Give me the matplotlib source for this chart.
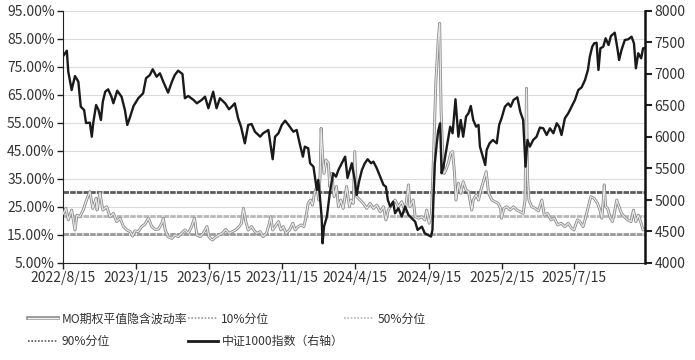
import matplotlib
matplotlib.use("Agg")
import matplotlib.pyplot as plt
import matplotlib.patheffects as pe
from matplotlib.lines import Line2D
import pandas as pd

plt.rcParams['font.family'] = ['Noto Sans CJK SC', 'DejaVu Sans']

# ---------------- data ----------------
index_dates = [
    "2022-08-15", "2022-08-23", "2022-08-26", "2022-09-02", "2022-09-09", "2022-09-16", "2022-09-21",
    "2022-09-28", "2022-10-02", "2022-10-10", "2022-10-14", "2022-10-17", "2022-10-23", "2022-10-28",
    "2022-11-02", "2022-11-06", "2022-11-11", "2022-11-17", "2022-11-24", "2022-11-28", "2022-12-06",
    "2022-12-15", "2022-12-22", "2022-12-27", "2023-01-02", "2023-01-09", "2023-01-19", "2023-01-29",
    "2023-02-04", "2023-02-12", "2023-02-18", "2023-02-26", "2023-03-05", "2023-03-12", "2023-03-22",
    "2023-03-30", "2023-04-05", "2023-04-12", "2023-04-21", "2023-04-26", "2023-05-03", "2023-05-14",
    "2023-05-21", "2023-05-31", "2023-06-07", "2023-06-14", "2023-06-24", "2023-07-01", "2023-07-08",
    "2023-07-19", "2023-07-27", "2023-08-03", "2023-08-08", "2023-08-15", "2023-08-21", "2023-08-29",
    "2023-09-05", "2023-09-12", "2023-09-19", "2023-09-30", "2023-10-06", "2023-10-17", "2023-10-22",
    "2023-10-26", "2023-10-31", "2023-11-07", "2023-11-14", "2023-11-21", "2023-11-28", "2023-12-08",
    "2023-12-15", "2023-12-22", "2023-12-28", "2024-01-01", "2024-01-08", "2024-01-12", "2024-01-19",
    "2024-01-22", "2024-01-26", "2024-01-29", "2024-02-02", "2024-02-05", "2024-02-07", "2024-02-10",
    "2024-02-16", "2024-02-22", "2024-02-29", "2024-03-06", "2024-03-11", "2024-03-18", "2024-03-25",
    "2024-03-30", "2024-04-08", "2024-04-14", "2024-04-18", "2024-04-23", "2024-04-29", "2024-05-05",
    "2024-05-11", "2024-05-18", "2024-05-23", "2024-05-30", "2024-06-06", "2024-06-13", "2024-06-18",
    "2024-06-22", "2024-06-27", "2024-07-03", "2024-07-07", "2024-07-14", "2024-07-21", "2024-07-28",
    "2024-08-04", "2024-08-11", "2024-08-18", "2024-08-23", "2024-09-01", "2024-09-07", "2024-09-14",
    "2024-09-20", "2024-09-23", "2024-09-25", "2024-09-28", "2024-10-02", "2024-10-05", "2024-10-09",
    "2024-10-12", "2024-10-16", "2024-10-23", "2024-10-30", "2024-11-04", "2024-11-10", "2024-11-16",
    "2024-11-21", "2024-11-26", "2024-12-02", "2024-12-07", "2024-12-12", "2024-12-17", "2024-12-23",
    "2024-12-28", "2024-12-31", "2025-01-06", "2025-01-11", "2025-01-14", "2025-01-20", "2025-01-27",
    "2025-02-04", "2025-02-09", "2025-02-14", "2025-02-21", "2025-02-28", "2025-03-05", "2025-03-11",
    "2025-03-19", "2025-03-25", "2025-03-31", "2025-04-05", "2025-04-09", "2025-04-14", "2025-04-21",
    "2025-04-28", "2025-05-05", "2025-05-12", "2025-05-19", "2025-05-26", "2025-06-02", "2025-06-09",
    "2025-06-14", "2025-06-19", "2025-06-26", "2025-07-03", "2025-07-10", "2025-07-17", "2025-07-24",
    "2025-07-31", "2025-08-07", "2025-08-13", "2025-08-17", "2025-08-22", "2025-08-26", "2025-08-31",
    "2025-09-04", "2025-09-08", "2025-09-14", "2025-09-19", "2025-09-25", "2025-09-30", "2025-10-08",
    "2025-10-14", "2025-10-17", "2025-10-22", "2025-10-29", "2025-11-05", "2025-11-12", "2025-11-17",
    "2025-11-21", "2025-11-26", "2025-12-02", "2025-12-06", "2025-12-10",
]
index_values = [
    7280, 7370, 7037, 6746, 6968, 6878, 6481,
    6429, 6222, 6227, 6005, 6222, 6508, 6429,
    6270, 6561, 6719, 6757, 6640, 6535, 6735,
    6640, 6429, 6191, 6323, 6492, 6615, 6694,
    6932, 6984, 7075, 6957, 7011, 6878, 6704,
    6878, 6984, 7053, 7000, 6615, 6651, 6588,
    6535, 6588, 6640, 6456, 6719, 6456, 6615,
    6535, 6440, 6492, 6535, 6297, 6164, 5900,
    6191, 6207, 6084, 6005, 6059, 6111, 5847,
    5647, 6005, 6059, 6191, 6259, 6191, 6084,
    6111, 5874, 5688, 5847, 5821, 5583, 5529,
    5370, 5159, 5318, 5001, 4736, 4313, 4577,
    4736, 5107, 5424, 5370, 5477, 5583, 5688,
    5350, 5583, 5318, 5080, 5291, 5477, 5583,
    5647, 5583, 5609, 5503, 5370, 5239, 5212,
    5001, 4894, 4974, 4789, 4869, 4736, 4894,
    4763, 4710, 4656, 4525, 4577, 4472, 4445,
    4420, 4525, 5001, 5583, 5900, 6100, 6218,
    5424, 5529, 5847, 6164, 6059, 6599, 6005,
    6270, 6005, 6323, 6376, 6492, 6270, 6164,
    6191, 5847, 5688, 5556, 5794, 5900, 5953,
    5900, 6191, 6297, 6481, 6535, 6481, 6588,
    6630, 6402, 6270, 5529, 5953, 5847, 5953,
    6005, 6150, 6138, 6032, 6138, 6059, 6218,
    6164, 6032, 6297, 6376, 6481, 6588, 6746,
    6789, 6905, 7064, 7275, 7433, 7487, 7497,
    7064, 7408, 7433, 7567, 7460, 7603, 7656,
    7381, 7222, 7381, 7540, 7551, 7592, 7487,
    7090, 7329, 7249, 7408, 7413,
]

iv_dates = [
    "2022-08-16", "2022-08-21", "2022-08-26", "2022-09-02", "2022-09-09", "2022-09-13", "2022-09-19",
    "2022-09-26", "2022-10-03", "2022-10-10", "2022-10-16", "2022-10-23", "2022-10-25", "2022-10-31",
    "2022-11-06", "2022-11-14", "2022-11-21", "2022-11-28", "2022-12-05", "2022-12-12", "2022-12-19",
    "2022-12-26", "2023-01-02", "2023-01-07", "2023-01-12", "2023-01-19", "2023-01-26", "2023-02-02",
    "2023-02-09", "2023-02-16", "2023-02-23", "2023-03-02", "2023-03-09", "2023-03-12", "2023-03-16",
    "2023-03-22", "2023-03-30", "2023-04-05", "2023-04-12", "2023-04-19", "2023-04-26", "2023-05-03",
    "2023-05-10", "2023-05-16", "2023-05-21", "2023-05-28", "2023-06-03", "2023-06-11", "2023-06-15",
    "2023-06-22", "2023-06-29", "2023-07-06", "2023-07-13", "2023-07-20", "2023-07-27", "2023-08-03",
    "2023-08-10", "2023-08-17", "2023-08-22", "2023-08-26", "2023-08-31", "2023-09-05", "2023-09-12",
    "2023-09-19", "2023-09-23", "2023-09-30", "2023-10-06", "2023-10-13", "2023-10-19", "2023-10-22",
    "2023-10-26", "2023-10-31", "2023-11-07", "2023-11-12", "2023-11-17", "2023-11-23", "2023-11-30",
    "2023-12-07", "2023-12-12", "2023-12-18", "2023-12-25", "2023-12-30", "2024-01-03", "2024-01-08",
    "2024-01-13", "2024-01-17", "2024-01-21", "2024-01-26", "2024-01-30", "2024-02-02", "2024-02-04",
    "2024-02-07", "2024-02-10", "2024-02-14", "2024-02-19", "2024-02-22", "2024-02-26", "2024-03-02",
    "2024-03-07", "2024-03-11", "2024-03-16", "2024-03-21", "2024-03-28", "2024-04-03", "2024-04-06",
    "2024-04-11", "2024-04-14", "2024-04-18", "2024-04-25", "2024-05-02", "2024-05-09", "2024-05-16",
    "2024-05-23", "2024-05-30", "2024-06-06", "2024-06-13", "2024-06-18", "2024-06-23", "2024-06-30",
    "2024-07-07", "2024-07-14", "2024-07-21", "2024-07-28", "2024-08-04", "2024-08-07", "2024-08-14",
    "2024-08-18", "2024-08-25", "2024-09-01", "2024-09-07", "2024-09-11", "2024-09-16", "2024-09-21",
    "2024-09-25", "2024-09-30", "2024-10-05", "2024-10-08", "2024-10-11", "2024-10-14", "2024-10-17",
    "2024-10-21", "2024-10-26", "2024-10-31", "2024-11-04", "2024-11-08", "2024-11-11", "2024-11-16",
    "2024-11-21", "2024-11-26", "2024-12-02", "2024-12-07", "2024-12-14", "2024-12-17", "2024-12-23",
    "2024-12-28", "2025-01-02", "2025-01-07", "2025-01-13", "2025-01-18", "2025-01-25", "2025-01-31",
    "2025-02-07", "2025-02-12", "2025-02-14", "2025-02-19", "2025-02-25", "2025-03-04", "2025-03-11",
    "2025-03-18", "2025-03-25", "2025-03-31", "2025-04-04", "2025-04-07", "2025-04-09", "2025-04-12",
    "2025-04-18", "2025-04-25", "2025-05-02", "2025-05-09", "2025-05-14", "2025-05-21", "2025-05-28",
    "2025-06-04", "2025-06-11", "2025-06-18", "2025-06-26", "2025-07-03", "2025-07-10", "2025-07-15",
    "2025-07-22", "2025-07-27", "2025-08-03", "2025-08-07", "2025-08-13", "2025-08-19", "2025-08-26",
    "2025-09-02", "2025-09-07", "2025-09-11", "2025-09-14", "2025-09-16", "2025-09-19", "2025-09-23",
    "2025-09-28", "2025-10-03", "2025-10-07", "2025-10-12", "2025-10-17", "2025-10-22", "2025-10-28",
    "2025-11-04", "2025-11-11", "2025-11-16", "2025-11-21", "2025-11-26", "2025-12-02", "2025-12-06",
    "2025-12-10",
]
iv_values = [
    22.7, 24.5, 20.4, 23.9, 16.8, 22.1, 21.5,
    23.9, 27.5, 30.5, 24.5, 28.1, 23.9, 30.1,
    23.9, 25.1, 21.5, 22.7, 19.8, 21.0, 18.0,
    16.8, 16.2, 14.6, 16.5, 16.2, 18.0, 18.9,
    21.0, 18.0, 17.0, 17.1, 19.2, 21.0, 16.8,
    14.4, 13.8, 15.0, 14.4, 15.6, 16.8, 15.6,
    18.0, 21.0, 15.0, 14.4, 15.6, 18.0, 14.4,
    13.2, 14.2, 15.0, 15.6, 17.0, 15.6, 16.2,
    16.8, 18.0, 19.2, 24.5, 19.8, 16.8, 18.0,
    16.2, 15.6, 16.2, 14.4, 15.6, 19.2, 21.5,
    16.8, 18.0, 19.8, 16.8, 18.0, 15.6, 16.8,
    19.2, 16.8, 18.0, 18.6, 18.0, 21.0, 26.3,
    27.5, 25.7, 29.9, 32.3, 27.5, 37.0, 53.1,
    43.0, 37.0, 41.8, 40.6, 32.3, 37.0, 28.7,
    32.3, 25.1, 27.5, 24.5, 32.3, 25.1, 27.5,
    26.3, 44.8, 28.7, 27.5, 26.3, 24.5, 26.3,
    24.5, 25.7, 23.3, 25.1, 20.4, 23.9, 25.7,
    27.5, 25.1, 26.9, 23.3, 32.9, 25.1, 27.5,
    21.5, 21.0, 21.5, 20.4, 23.9, 19.2, 22.7,
    41.8, 69.2, 84.6, 90.6, 59.6, 45.4, 37.0,
    38.2, 40.6, 44.2, 44.8, 37.0, 27.5, 33.5,
    29.9, 34.0, 31.1, 30.5, 23.9, 27.5, 29.3,
    27.5, 31.1, 34.0, 37.6, 29.9, 27.5, 26.9,
    26.3, 24.5, 21.0, 24.5, 25.1, 23.9, 25.1,
    23.9, 23.3, 22.7, 27.5, 67.4, 35.8, 27.5,
    25.1, 24.5, 23.6, 27.5, 22.1, 22.7, 20.4,
    21.0, 18.6, 19.2, 18.0, 19.2, 17.4, 16.8,
    20.4, 19.8, 18.0, 20.4, 24.5, 28.7, 28.1,
    26.3, 23.9, 21.0, 27.5, 32.9, 25.1, 24.5,
    21.5, 19.8, 22.7, 27.5, 25.1, 22.7, 21.5,
    20.4, 19.8, 23.9, 19.8, 22.1, 19.2, 16.8,
    17.0,
]

pct10 = 15.4
pct50 = 21.7
pct90 = 30.5

x_ticks = ["2022-08-15", "2023-01-15", "2023-06-15", "2023-11-15",
           "2024-04-15", "2024-09-15", "2025-02-15", "2025-07-15"]
x_tick_labels = ["2022/8/15", "2023/1/15", "2023/6/15", "2023/11/15",
                 "2024/4/15", "2024/9/15", "2025/2/15", "2025/7/15"]
left_ticks = [5, 15, 25, 35, 45, 55, 65, 75, 85, 95]
right_ticks = [4000, 4500, 5000, 5500, 6000, 6500, 7000, 7500, 8000]

labels = ["MO期权平值隐含波动率", "10%分位", "50%分位", "90%分位", "中证1000指数（右轴）"]

# ---------------- plot ----------------
idx_d = pd.to_datetime(index_dates)
iv_d = pd.to_datetime(iv_dates)

fig = plt.figure(figsize=(6.95, 3.6), dpi=100)
ax = fig.add_axes([63/695, 1-263/360, (645-63)/695, 252/360])
ax2 = ax.twinx()

xmin = pd.Timestamp("2022-08-15")
xmax = pd.Timestamp("2025-12-10")

ax.set_ylim(5, 95)
ax.set_yticks(left_ticks)
ax.set_yticklabels([f"{t:.2f}%" for t in left_ticks])
ax.grid(axis='y', color='#dcdcdc', linewidth=0.8)
ax.set_axisbelow(True)

c10, c50, c90 = '#9a9a9a', '#b8b8b8', '#5a5a5a'
ls_dot = (0, (2.0, 0.4))
ax.axhline(pct10, color=c10, linewidth=2.0, linestyle=ls_dot, zorder=2)
ax.axhline(pct50, color=c50, linewidth=2.0, linestyle=ls_dot, zorder=2)
ax.axhline(pct90, color=c90, linewidth=2.0, linestyle=ls_dot, zorder=2)

iv_pe = [pe.Stroke(linewidth=2.1, foreground='#8c8c8c'), pe.Normal()]
ax.plot(iv_d, iv_values, color='#e6e6e6', linewidth=0.9, zorder=3, path_effects=iv_pe)

ax2.plot(idx_d, index_values, color='#1a1a1a', linewidth=1.7, zorder=4)
ax2.set_ylim(4000, 8000)
ax2.set_yticks(right_ticks)

ax.set_xlim(xmin, xmax)
ax.set_xticks(pd.to_datetime(x_ticks))
ax.set_xticklabels(x_tick_labels)

for a in (ax, ax2):
    a.tick_params(axis='both', direction='out', length=4, width=1, colors='#222222',
                  labelsize=10, labelcolor='#333333', pad=2)
ax.spines['top'].set_visible(False)
ax2.spines['top'].set_visible(False)
ax.spines['left'].set_color('#222222')
ax.spines['bottom'].set_color('#222222')
ax2.spines['right'].set_color('#111111')
ax2.spines['right'].set_linewidth(1.8)
ax2.spines['left'].set_visible(False)
ax2.spines['bottom'].set_visible(False)
ax.spines['right'].set_visible(False)
ax.tick_params(axis='y', length=4)
ax2.tick_params(axis='y', width=1.5, length=5)

# legend
h_iv = Line2D([], [], color='#f0f0f0', linewidth=1.0,
              path_effects=[pe.Stroke(linewidth=2.6, foreground='#8a8a8a'), pe.Normal()])
h10 = Line2D([], [], color=c10, linewidth=1.2, linestyle=(0, (1, 1)))
h50 = Line2D([], [], color=c50, linewidth=1.2, linestyle=(0, (1, 1)))
h90 = Line2D([], [], color=c90, linewidth=1.2, linestyle=(0, (1, 1)))
h_idx = Line2D([], [], color='#1a1a1a', linewidth=2.0)
handles = [h_iv, h90, h10, h_idx, h50]
labs = [labels[0], labels[3], labels[1], labels[4], labels[2]]
fig.legend(handles, labs, loc='upper left', bbox_to_anchor=(0.028, 0.155), ncol=3,
           frameon=False, fontsize=8.6, handlelength=2.5, handletextpad=0.3,
           columnspacing=0.1, labelspacing=0.8, borderpad=0.2,
           labelcolor='#333333')

fig.savefig("out.png", dpi=100)
